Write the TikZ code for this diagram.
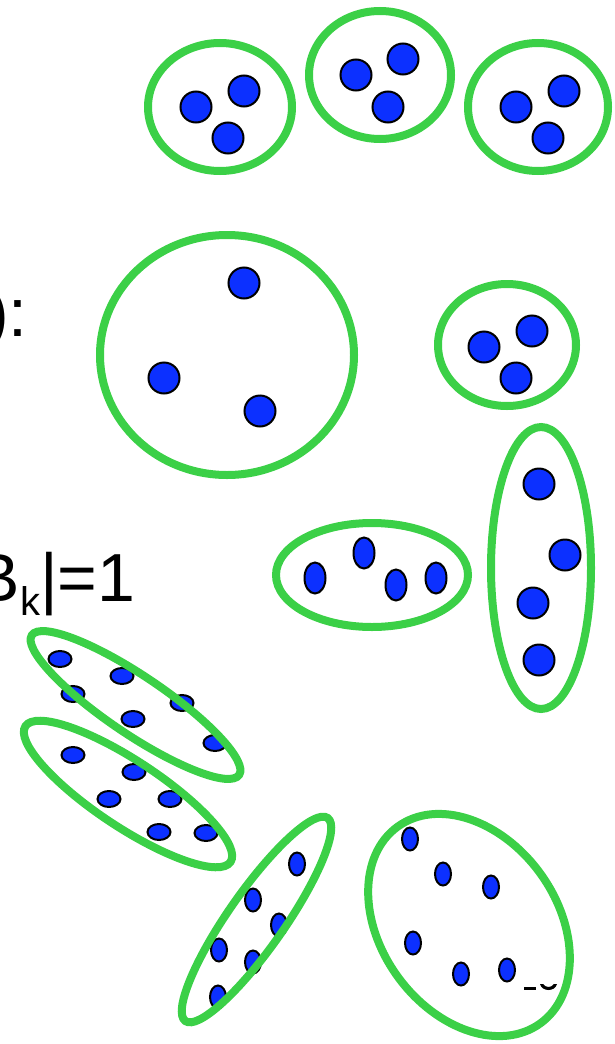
\documentclass[tikz,border=0pt]{standalone}
\usepackage{fontspec}
\setmainfont{Liberation Sans}
\definecolor{grn}{RGB}{59,208,71}
\definecolor{dotblue}{RGB}{12,48,255}
\tikzset{
  grp/.style={draw=grn, line width=8pt},
  bluedot/.style={fill=dotblue, draw=black, line width=2pt},
  lbl/.style={font=\fontsize{68}{80}\selectfont, inner sep=0pt, anchor=base east, text=black}
}
\begin{document}
\begin{tikzpicture}[x=1pt,y=1pt]
\useasboundingbox (0,0) rectangle (615,-1044);
\clip (0,0) rectangle (615,-1044);
% ---- dots ----
\foreach \p in {(196,-107),(244,-91),(228,-138),
                (356,-75),(403,-59),(388,-107),
                (516,-107),(564,-91),(548,-138),
                (244,-283),(164,-378),(260,-411),
                (484,-347),(532,-331),(516,-378),
                (539,-484),(565,-555),(533,-603),(539,-660)}
  \draw[bluedot] \p circle[radius=15.5];
\foreach \p in {(315,-578),(364,-553),(396,-585),(436,-578)}
  \draw[bluedot] \p ellipse[x radius=10.5, y radius=15.5];
\foreach \p in {(60,-659),(122,-676),(73,-694),(182,-703),(133,-719),(215,-743),
                (73,-755),(134,-772),(109,-799),(170,-799),(159,-832),(206,-833)}
  \draw[bluedot] \p ellipse[x radius=11.5, y radius=8];
\foreach \p in {(297,-864),(253,-900),(279,-925),(219,-950),(253,-962),(218,-997),
                (410,-839),(443,-874),(491,-887),(413,-943),(461,-974),(507,-970)}
  \draw[bluedot] \p ellipse[x radius=8, y radius=11.5];
% ---- groups ----
\draw[grp] (220,-107) ellipse[x radius=72, y radius=64];
\draw[grp] (380,-75) ellipse[x radius=71, y radius=64];
\draw[grp] (538,-107) ellipse[x radius=70, y radius=64];
\draw[grp] (227,-355) ellipse[x radius=127, y radius=120];
\draw[grp] (507,-345) ellipse[x radius=69, y radius=61];
\draw[grp] (372,-575) ellipse[x radius=96, y radius=52];
\draw[grp] (541,-568) ellipse[x radius=50, y radius=141];
\draw[grp] (135.5,-705) ellipse[x radius=125, y radius=29, rotate=-34];
\draw[grp] (128,-794) ellipse[x radius=123, y radius=33, rotate=-33.5];
\draw[grp] (256.5,-919.5) ellipse[x radius=124, y radius=28, rotate=55];
\draw[grp] (469,-925) ellipse[x radius=88, y radius=121.5, rotate=36];
% ---- texts ----
\node[lbl] (colon) at (28,-336) {):};
\node[lbl] (bk) at (135.5,-601) {B\raisebox{-14pt}{\fontsize{40}{40}\selectfont k}|=1};
% ---- cut-off text fragment ----
\fill (524,-987) rectangle (536,-990);
\fill (540,-984) .. controls (542,-992) and (555,-992) .. (557,-984) -- (554,-984) .. controls (551,-988) and (546,-988) .. (543,-984) -- cycle;
\end{tikzpicture}
\end{document}
